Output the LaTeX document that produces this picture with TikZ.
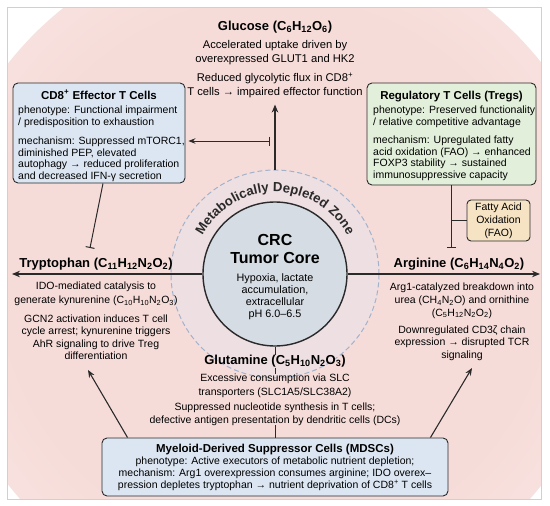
\documentclass[tikz,border=0pt]{standalone}
\usepackage{fontspec}
\setmainfont{Liberation Sans}
\usetikzlibrary{arrows.meta,decorations.text,calc}
\definecolor{ink}{HTML}{2A2A2A}
\definecolor{bluefill}{HTML}{DCE6F2}
\definecolor{greenfill}{HTML}{E2EFDA}
\definecolor{tanfill}{HTML}{F6E3C3}
\definecolor{corefill}{HTML}{D6DCE4}
\definecolor{zonefill}{HTML}{EEDFE2}
\definecolor{zoneline}{HTML}{A3B2CB}
\definecolor{bgpink}{HTML}{F6DCD9}
\definecolor{bgmid}{HTML}{FAEBE9}
\definecolor{framecol}{HTML}{D0D0D0}
\pgfdeclareradialshading{bgshade}{\pgfpoint{0bp}{0bp}}{color(0bp)=(bgpink); color(20bp)=(bgpink); color(36bp)=(bgmid); color(50bp)=(white)}
\tikzset{
  box/.style={draw=ink, line width=0.9pt, rounded corners=5pt},
  ttl/.style={font=\bfseries\fontsize{13}{15}\selectfont, text=black, inner sep=0pt, anchor=base},
  btitle/.style={font=\bfseries\fontsize{11.5}{13}\selectfont, text=black, inner sep=0pt, anchor=base},
  body/.style={font=\fontsize{10.5}{11.7}\selectfont, text=black, inner sep=0pt},
  arr/.style={draw=ink, line width=1.3pt, -{Stealth[length=8pt,width=6.5pt]}},
  thinarr/.style={draw=ink, line width=1.1pt, -{Stealth[length=7.5pt,width=6pt]}},
  inh/.style={draw=ink, line width=1pt, -{Bar[width=9pt]}},
  link/.style={draw=ink, line width=1pt},
}
\begin{document}
\begin{tikzpicture}[x=1pt,y=1pt]
\useasboundingbox (0,0) rectangle (550,-506);
% background
\begin{scope}
  \clip (7,-7) rectangle (541,-499);
  \shade[shading=bgshade] (275,-274) circle (340pt);
\end{scope}
\draw[framecol, line width=0.7pt] (7,-7) rectangle (541,-499);

% zone and core
\node[circle, draw=zoneline, dash pattern=on 5pt off 3pt, line width=1pt, fill=zonefill, minimum size=208pt, inner sep=0pt] (zone) at (275,-274) {};
\path[decorate, decoration={text along path, text align=center, text color=ink,
  text={|\bfseries\fontsize{13.2}{13.2}\selectfont|Metabolically Depleted Zone}}]
  (275,-274) ++(155:82pt) arc[start angle=155, end angle=25, radius=82pt];
\node[circle, draw=ink, line width=1.4pt, fill=corefill, minimum size=144pt, inner sep=0pt] (core) at (275,-274) {};
\node[font=\bfseries\fontsize{16}{18}\selectfont, align=center, inner sep=0pt, anchor=north] (corettl) at (275,-234) {CRC\\Tumor Core};
\node[font=\fontsize{10.8}{12.3}\selectfont, align=center, inner sep=0pt, anchor=north] (corebody) at (275,-273) {Hypoxia, lactate\\accumulation,\\extracellular\\pH 6.0–6.5};

% Glucose
\node[ttl] (glcttl) at (275,-30.7) {Glucose (C\textsubscript{6}H\textsubscript{12}O\textsubscript{6})};
\node[body, font=\fontsize{11.2}{14}\selectfont, align=center, anchor=north] (glcbody) at (275,-39.7)
  {Accelerated uptake driven by\\overexpressed GLUT1 and HK2\\[5pt]Reduced glycolytic flux in CD8\textsuperscript{+}\\T cells → impaired effector function};

% CD8 box
\node[box, fill=bluefill, minimum width=172pt, minimum height=100pt, inner sep=0pt] (cd8) at (99,-133) {};
\node[btitle] (cd8ttl) at (99,-99.1) {CD8\textsuperscript{+} Effector T Cells};
\node[body, align=left, anchor=north west] (cd8body) at (18,-106.1)
  {phenotype: Functional impairment\\/ predisposition to exhaustion\\[7pt]mechanism: Suppressed mTORC1,\\diminished PEP, elevated\\autophagy → reduced proliferation\\and decreased IFN-γ secretion};

% Treg box
\node[box, fill=greenfill, minimum width=169pt, minimum height=102pt, inner sep=0pt] (treg) at (451.5,-134) {};
\node[btitle] (tregttl) at (451.5,-99.1) {Regulatory T Cells (Tregs)};
\node[body, align=left, anchor=north west] (tregbody) at (373,-106.1)
  {phenotype: Preserved functionality\\/ relative competitive advantage\\[6pt]mechanism: Upregulated fatty\\acid oxidation (FAO) → enhanced\\FOXP3 stability → sustained\\immunosuppressive capacity};

% FAO box
\node[box, rounded corners=4pt, fill=tanfill, minimum width=63pt, minimum height=41pt, inner sep=0pt, align=center, font=\fontsize{10.5}{12.8}\selectfont] (fao) at (498.5,-220.5) {Fatty Acid\\Oxidation\\(FAO)};

% Tryptophan
\node[ttl] (trpttl) at (96,-267.7) {Tryptophan (C\textsubscript{11}H\textsubscript{12}N\textsubscript{2}O\textsubscript{2})};
\node[body, font=\fontsize{10.5}{12.4}\selectfont, align=center, anchor=north] (trpbody) at (96,-282.1)
  {IDO-mediated catalysis to\\[1.5pt]generate kynurenine (C\textsubscript{10}H\textsubscript{10}N\textsubscript{2}O\textsubscript{3})\\[6pt]GCN2 activation induces T cell\\cycle arrest; kynurenine triggers\\AhR signaling to drive Treg\\differentiation};

% Arginine
\node[ttl] (argttl) at (459,-267.7) {Arginine (C\textsubscript{6}H\textsubscript{14}N\textsubscript{4}O\textsubscript{2})};
\node[body, font=\fontsize{10.5}{12.7}\selectfont, align=center, anchor=north] (argbody) at (462,-283.1)
  {Arg1-catalyzed breakdown into\\urea (CH\textsubscript{4}N\textsubscript{2}O) and ornithine\\(C\textsubscript{5}H\textsubscript{12}N\textsubscript{2}O\textsubscript{2})\\[4pt]Downregulated CD3ζ chain\\expression → disrupted TCR\\signaling};

% Glutamine
\node[ttl] (glnttl) at (275,-364.7) {Glutamine (C\textsubscript{5}H\textsubscript{10}N\textsubscript{2}O\textsubscript{3})};
\node[body, font=\fontsize{10.5}{12.4}\selectfont, align=center, anchor=north] (glnbody) at (275,-374.1)
  {Excessive consumption via SLC\\[1.5pt]transporters (SLC1A5/SLC38A2)\\[2.5pt]Suppressed nucleotide synthesis in T cells;\\defective antigen presentation by dendritic cells (DCs)};

% MDSC box
\node[box, fill=bluefill, minimum width=346pt, minimum height=58pt, inner sep=0pt] (mdsc) at (275,-467) {};
\node[btitle] (mdscttl) at (275,-452.1) {Myeloid-Derived Suppressor Cells (MDSCs)};
\node[body, font=\fontsize{10.5}{12}\selectfont, align=center, anchor=north] (mdscbody) at (275,-457.1)
  {phenotype: Active executors of metabolic nutrient depletion;\\mechanism: Arg1 overexpression consumes arginine; IDO overex–\\pression depletes tryptophan → nutrient deprivation of CD8\textsuperscript{+} T cells};

% connectors
\coordinate (trpEnd) at (12,-274);
\coordinate (argEnd) at (540,-274);
\coordinate (glcBar) at (270,-141);
\coordinate (trpBar) at (90,-248);
\coordinate (argBar) at (451.5,-248);
\coordinate (trpTip) at (88,-370);
\coordinate (argTip) at (472,-368);

\draw[arr, shorten >=7pt] (zone.north) -- (glcbody.south);
\draw[draw=ink, line width=1pt, {Bar[width=9pt]}-{Stealth[length=7pt,width=5.5pt]}, shorten >=3pt] (glcBar) -- (cd8.east |- glcBar);
\draw[inh] ($(cd8.south)+(4,0)$) -- (trpBar);
\draw[inh] (treg.south) -- (argBar);
\draw[link] (fao.west) -- (fao.west -| treg.south);
\draw[arr] (core.west) -- (trpEnd);
\draw[arr] (core.east) -- (argEnd);
\draw[link] (core.south) -- (glnttl.north);
\draw[link] (glnttl.south) -- (glnbody.north);
\draw[link] (glnbody.south) -- (mdsc.north);
\draw[thinarr] ($(mdsc.north west)+(26,0)$) -- (trpTip);
\draw[thinarr] ($(mdsc.north east)+(-18,0)$) -- (argTip);
\end{tikzpicture}
\end{document}
